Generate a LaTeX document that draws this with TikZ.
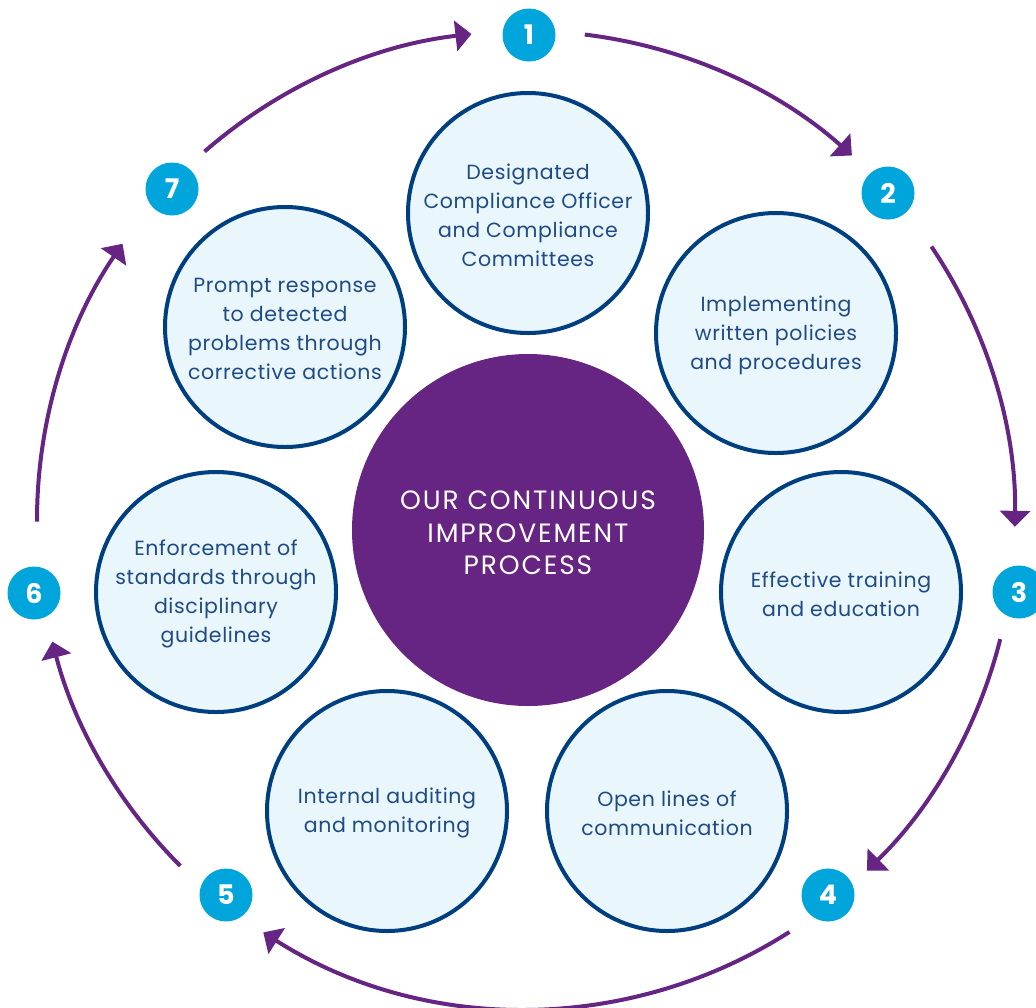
\documentclass[tikz,border=0pt]{standalone}
\usepackage{fontspec}
\setmainfont{Poppins}
\newfontfamily\itemfont[LetterSpace=3]{Poppins}
\newfontfamily\hubfont[LetterSpace=7]{Poppins}
\usetikzlibrary{arrows.meta}
\definecolor{cpurple}{HTML}{662483}
\definecolor{ccyan}{HTML}{00A5DB}
\definecolor{cfill}{HTML}{E9F6FC}
\definecolor{cborder}{HTML}{003F7F}
\definecolor{ctext}{HTML}{1E4A86}
\begin{document}
\begin{tikzpicture}[x=1pt,y=-1pt,
  item/.style={circle, draw=cborder, line width=4pt, fill=cfill, minimum size=240pt, inner sep=0pt, align=center, text=ctext, font=\itemfont\fontsize{20.5}{29}\selectfont},
  itemtext/.style={align=center, text=ctext, font=\itemfont\fontsize{20.5}{29}\selectfont, inner sep=0pt},
  badge/.style={circle, fill=ccyan, minimum size=53pt, inner sep=0pt, text=white, font=\fontsize{27}{27}\selectfont\bfseries},
  arr/.style={draw=cpurple, line width=4pt, -{Triangle[length=16pt,width=30pt]}},
  hub/.style={circle, fill=cpurple, minimum size=352pt, inner sep=0pt, align=center, text=white, font=\hubfont\fontsize{26.5}{32.5}\selectfont}]
\useasboundingbox (0,0) rectangle (1036,1007);
% hub
\node[hub] (hub) at (528,530) {};
\node[align=center, text=white, font=\hubfont\fontsize{26.5}{32.5}\selectfont, inner sep=0pt] (hubtext) at (528,533) {OUR CONTINUOUS\\IMPROVEMENT\\PROCESS};
% items
\node[item] (c1) at (528,213) {};
\node[item] (c2) at (776,333) {};
\node[item] (c3) at (841,592) {};
\node[item] (c4) at (667,811) {};
\node[item] (c5) at (387,811) {};
\node[item] (c6) at (216,592) {};
\node[item] (c7) at (285,327) {};
\node[itemtext] (t1) at (528,215) {Designated\\Compliance Officer\\and Compliance\\Committees};
\node[itemtext] (t2) at (776,335) {Implementing\\written policies\\and procedures};
\node[itemtext] (t3) at (841,594) {Effective training\\and education};
\node[itemtext] (t4) at (667,813) {Open lines of\\communication};
\node[itemtext] (t5) at (387,813) {Internal auditing\\and monitoring};
\node[itemtext] (t6) at (216,594) {Enforcement of\\standards through\\disciplinary\\guidelines};
\node[itemtext] (t7) at (285,329) {Prompt response\\to detected\\problems through\\corrective actions};
% badges
\node[badge] (b1) at (529,35) {1};
\node[badge] (b2) at (888,193) {2};
\node[badge] (b3) at (1019,592) {3};
\node[badge] (b4) at (828,895) {4};
\node[badge] (b5) at (226,895) {5};
\node[badge] (b6) at (34,593) {6};
\node[badge] (b7) at (172,189) {7};
% ring arrows
\coordinate (ring) at (526,520);
\path (ring) ++(-131.1:489) coordinate (a1s);
\path (ring) ++(-83.1:489) coordinate (a2s);
\path (ring) ++(-34.0:489) coordinate (a3s);
\path (ring) ++(14.1:489) coordinate (a4s);
\path (ring) ++(57.4:489) coordinate (a5s);
\path (ring) ++(135.0:489) coordinate (a6s);
\path (ring) ++(179.8:489) coordinate (a7s);
\draw[arr] (a1s) arc[start angle=-131.1, end angle=-96.4, radius=489];
\draw[arr] (a2s) arc[start angle=-83.1, end angle=-48.2, radius=489];
\draw[arr] (a3s) arc[start angle=-34.0, end angle=0.8, radius=489];
\draw[arr] (a4s) arc[start angle=14.1, end angle=45.8, radius=489];
\draw[arr] (a5s) arc[start angle=57.4, end angle=122.5, radius=489];
\draw[arr] (a6s) arc[start angle=135.0, end angle=165.6, radius=489];
\draw[arr] (a7s) arc[start angle=179.8, end angle=214.4, radius=489];
\end{tikzpicture}
\end{document}
